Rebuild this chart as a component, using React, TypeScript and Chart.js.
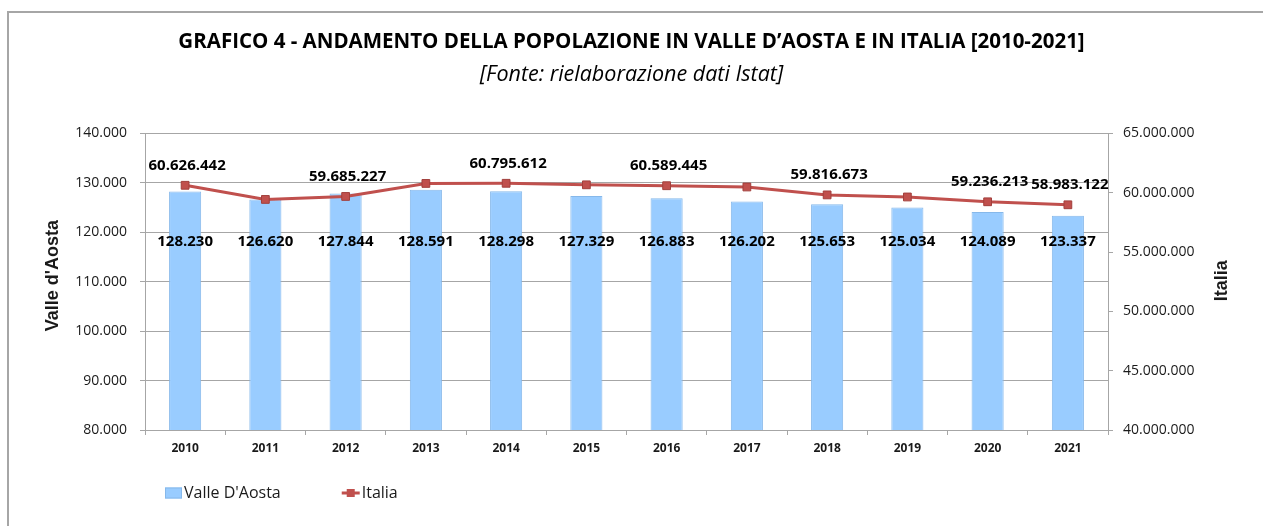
import React, { useEffect, useRef } from 'react';
import { Chart, registerables } from 'chart.js';

Chart.register(...registerables);

// ---- Data ----
const years = ['2010', '2011', '2012', '2013', '2014', '2015', '2016', '2017', '2018', '2019', '2020', '2021'];
const valleDAosta = [128230, 126620, 127844, 128591, 128298, 127329, 126883, 126202, 125653, 125034, 124089, 123337];
const italia = [60626442, 59433744, 59685227, 60782668, 60795612, 60665551, 60589445, 60483973, 59816673, 59641488, 59236213, 58983122];
const italiaLabelShown = [true, false, true, false, true, false, true, false, true, false, true, true];

const leftMin = 80000;
const leftMax = 140000;
const leftStep = 10000;
const rightMin = 40000000;
const rightMax = 65000000;
const rightStep = 5000000;
const barLabelLevel = 118000;

const titleText = 'GRAFICO 4 - ANDAMENTO DELLA POPOLAZIONE IN VALLE D\u2019AOSTA E IN ITALIA [2010-2021]';
const subtitleText = '[Fonte: rielaborazione dati Istat]';
const leftAxisTitle = "Valle d'Aosta";
const rightAxisTitle = 'Italia';
const barSeriesName = "Valle D'Aosta";
const lineSeriesName = 'Italia';

// ---- Styles ----
const BAR_FILL = '#99CCFF';
const BAR_BORDER = '#86B8EA';
const LINE_COLOR = '#C0504D';
const MARKER_BORDER = '#A23F3C';
const GRID = '#A6A6A6';
const TEXT = '#1a1a1a';

const fmt = (n: number) => Math.round(n).toString().replace(/\B(?=(\d{3})+(?!\d))/g, '.');

const annotatePlugin = {
  id: 'annotate',
  afterDatasetsDraw(chart: any) {
    const ctx = chart.ctx as CanvasRenderingContext2D;
    const yScale = chart.scales.y;
    const lineMeta = chart.getDatasetMeta(0);
    const barMeta = chart.getDatasetMeta(1);
    ctx.save();
    ctx.fillStyle = '#000';
    ctx.font = 'bold 15px "Open Sans"';
    ctx.textAlign = 'center';
    ctx.textBaseline = 'middle';
    const yl = yScale.getPixelForValue(barLabelLevel);
    barMeta.data.forEach((el: any, i: number) => {
      ctx.fillText(fmt(valleDAosta[i]), el.x, yl);
    });
    lineMeta.data.forEach((el: any, i: number) => {
      if (italiaLabelShown[i]) ctx.fillText(fmt(italia[i]), el.x + 2, el.y - 20);
    });
    ctx.restore();
  },
  afterDraw(chart: any) {
    const ctx = chart.ctx as CanvasRenderingContext2D;
    const ca = chart.chartArea;
    const midY = (ca.top + ca.bottom) / 2;
    ctx.save();
    // axis titles (both read bottom-to-top)
    ctx.fillStyle = TEXT;
    ctx.font = 'bold 18px "Liberation Sans"';
    ctx.textAlign = 'center';
    ctx.textBaseline = 'middle';
    ctx.save();
    ctx.translate(ca.left - 92, midY - 6);
    ctx.rotate(-Math.PI / 2);
    ctx.fillText(leftAxisTitle, 0, 0);
    ctx.restore();
    ctx.save();
    ctx.translate(ca.right + 114, midY - 1);
    ctx.rotate(-Math.PI / 2);
    ctx.fillText(rightAxisTitle, 0, 0);
    ctx.restore();

    // legend
    const ly = ca.bottom + 63;
    let x = ca.left + 20;
    ctx.fillStyle = BAR_FILL;
    ctx.fillRect(x, ly - 5.5, 17, 11);
    ctx.strokeStyle = BAR_BORDER;
    ctx.lineWidth = 1;
    ctx.strokeRect(x + 0.5, ly - 5, 16, 10);
    x += 19;
    ctx.fillStyle = TEXT;
    ctx.font = '16px "Open Sans"';
    ctx.textAlign = 'left';
    ctx.fillText(barSeriesName, x, ly);
    x += ctx.measureText(barSeriesName).width + 61;
    ctx.strokeStyle = LINE_COLOR;
    ctx.lineWidth = 3;
    ctx.beginPath();
    ctx.moveTo(x, ly);
    ctx.lineTo(x + 18, ly);
    ctx.stroke();
    ctx.fillStyle = LINE_COLOR;
    ctx.fillRect(x + 5, ly - 4, 8, 8);
    x += 20;
    ctx.fillStyle = TEXT;
    ctx.fillText(lineSeriesName, x, ly);
    ctx.restore();
  },
};

export default function App() {
  const canvasRef = useRef<HTMLCanvasElement | null>(null);

  useEffect(() => {
    const canvas = canvasRef.current;
    if (!canvas) return;
    const chart = new Chart(canvas, {
      type: 'bar',
      data: {
        labels: years,
        datasets: [
          {
            type: 'line',
            label: lineSeriesName,
            data: italia,
            yAxisID: 'y1',
            borderColor: LINE_COLOR,
            backgroundColor: LINE_COLOR,
            borderWidth: 3,
            pointStyle: 'rect',
            pointRadius: 5.5,
            pointBackgroundColor: LINE_COLOR,
            pointBorderColor: MARKER_BORDER,
            pointBorderWidth: 1,
            tension: 0,
            order: 0,
          } as any,
          {
            type: 'bar',
            label: barSeriesName,
            data: valleDAosta,
            yAxisID: 'y',
            backgroundColor: BAR_FILL,
            borderColor: BAR_BORDER,
            borderWidth: 1,
            barPercentage: 0.4,
            categoryPercentage: 1,
            order: 1,
          } as any,
        ],
      },
      options: {
        responsive: false,
        animation: false,
        devicePixelRatio: 1,
        layout: { padding: { top: 0, left: 0, right: 0, bottom: 0 } },
        plugins: {
          legend: { display: false },
          tooltip: { enabled: false },
          title: {
            display: true,
            text: titleText,
            color: '#000',
            font: { family: '"Open Sans"', size: 20.5, weight: 'bold', lineHeight: 1.2 },
            padding: { top: 30, bottom: 0 },
          },
          subtitle: {
            display: true,
            text: subtitleText,
            color: '#000',
            font: { family: '"Open Sans"', size: 21.5, style: 'italic', lineHeight: 1.2 },
            padding: { top: 7.5, bottom: 45.5 },
          },
        },
        scales: {
          x: {
            offset: true,
            grid: { display: true, drawOnChartArea: false, drawTicks: true, tickLength: 5, color: GRID, offset: true },
            border: { display: true, color: GRID, width: 1 },
            ticks: { color: TEXT, font: { family: '"Open Sans"', size: 12, weight: 'bold' }, padding: 6, maxRotation: 0 },
            afterFit: (s: any) => { s.height = 96; },
          },
          y: {
            position: 'left',
            min: leftMin,
            max: leftMax,
            grid: { color: GRID, drawTicks: true, tickLength: 5 },
            border: { display: true, color: GRID, width: 1 },
            ticks: {
              stepSize: leftStep,
              color: TEXT,
              font: { family: '"Open Sans"', size: 14 },
              padding: 13,
              callback: (v: any) => fmt(Number(v)),
            },
            afterFit: (s: any) => { s.width = 145; },
          },
          y1: {
            position: 'right',
            min: rightMin,
            max: rightMax,
            grid: { drawOnChartArea: false, drawTicks: true, tickLength: 5, color: GRID },
            border: { display: true, color: GRID, width: 1 },
            ticks: {
              stepSize: rightStep,
              color: TEXT,
              font: { family: '"Open Sans"', size: 14 },
              padding: 10,
              callback: (v: any) => fmt(Number(v)),
            },
            afterFit: (s: any) => { s.width = 155; },
          },
        },
      } as any,
      plugins: [annotatePlugin],
    });
    return () => chart.destroy();
  }, []);

  return (
    <div style={{ position: 'fixed', left: 0, top: 0, width: 1263, height: 526, overflow: 'hidden', background: '#fff' }}>
      <div
        style={{
          position: 'absolute',
          left: 7,
          top: 11,
          width: 1400,
          height: 700,
          border: '2px solid #A6A6A6',
          boxSizing: 'border-box',
        }}
      />
      <canvas ref={canvasRef} width={1263} height={526} style={{ position: 'absolute', left: 0, top: 0, width: 1263, height: 526 }} />
    </div>
  );
}
